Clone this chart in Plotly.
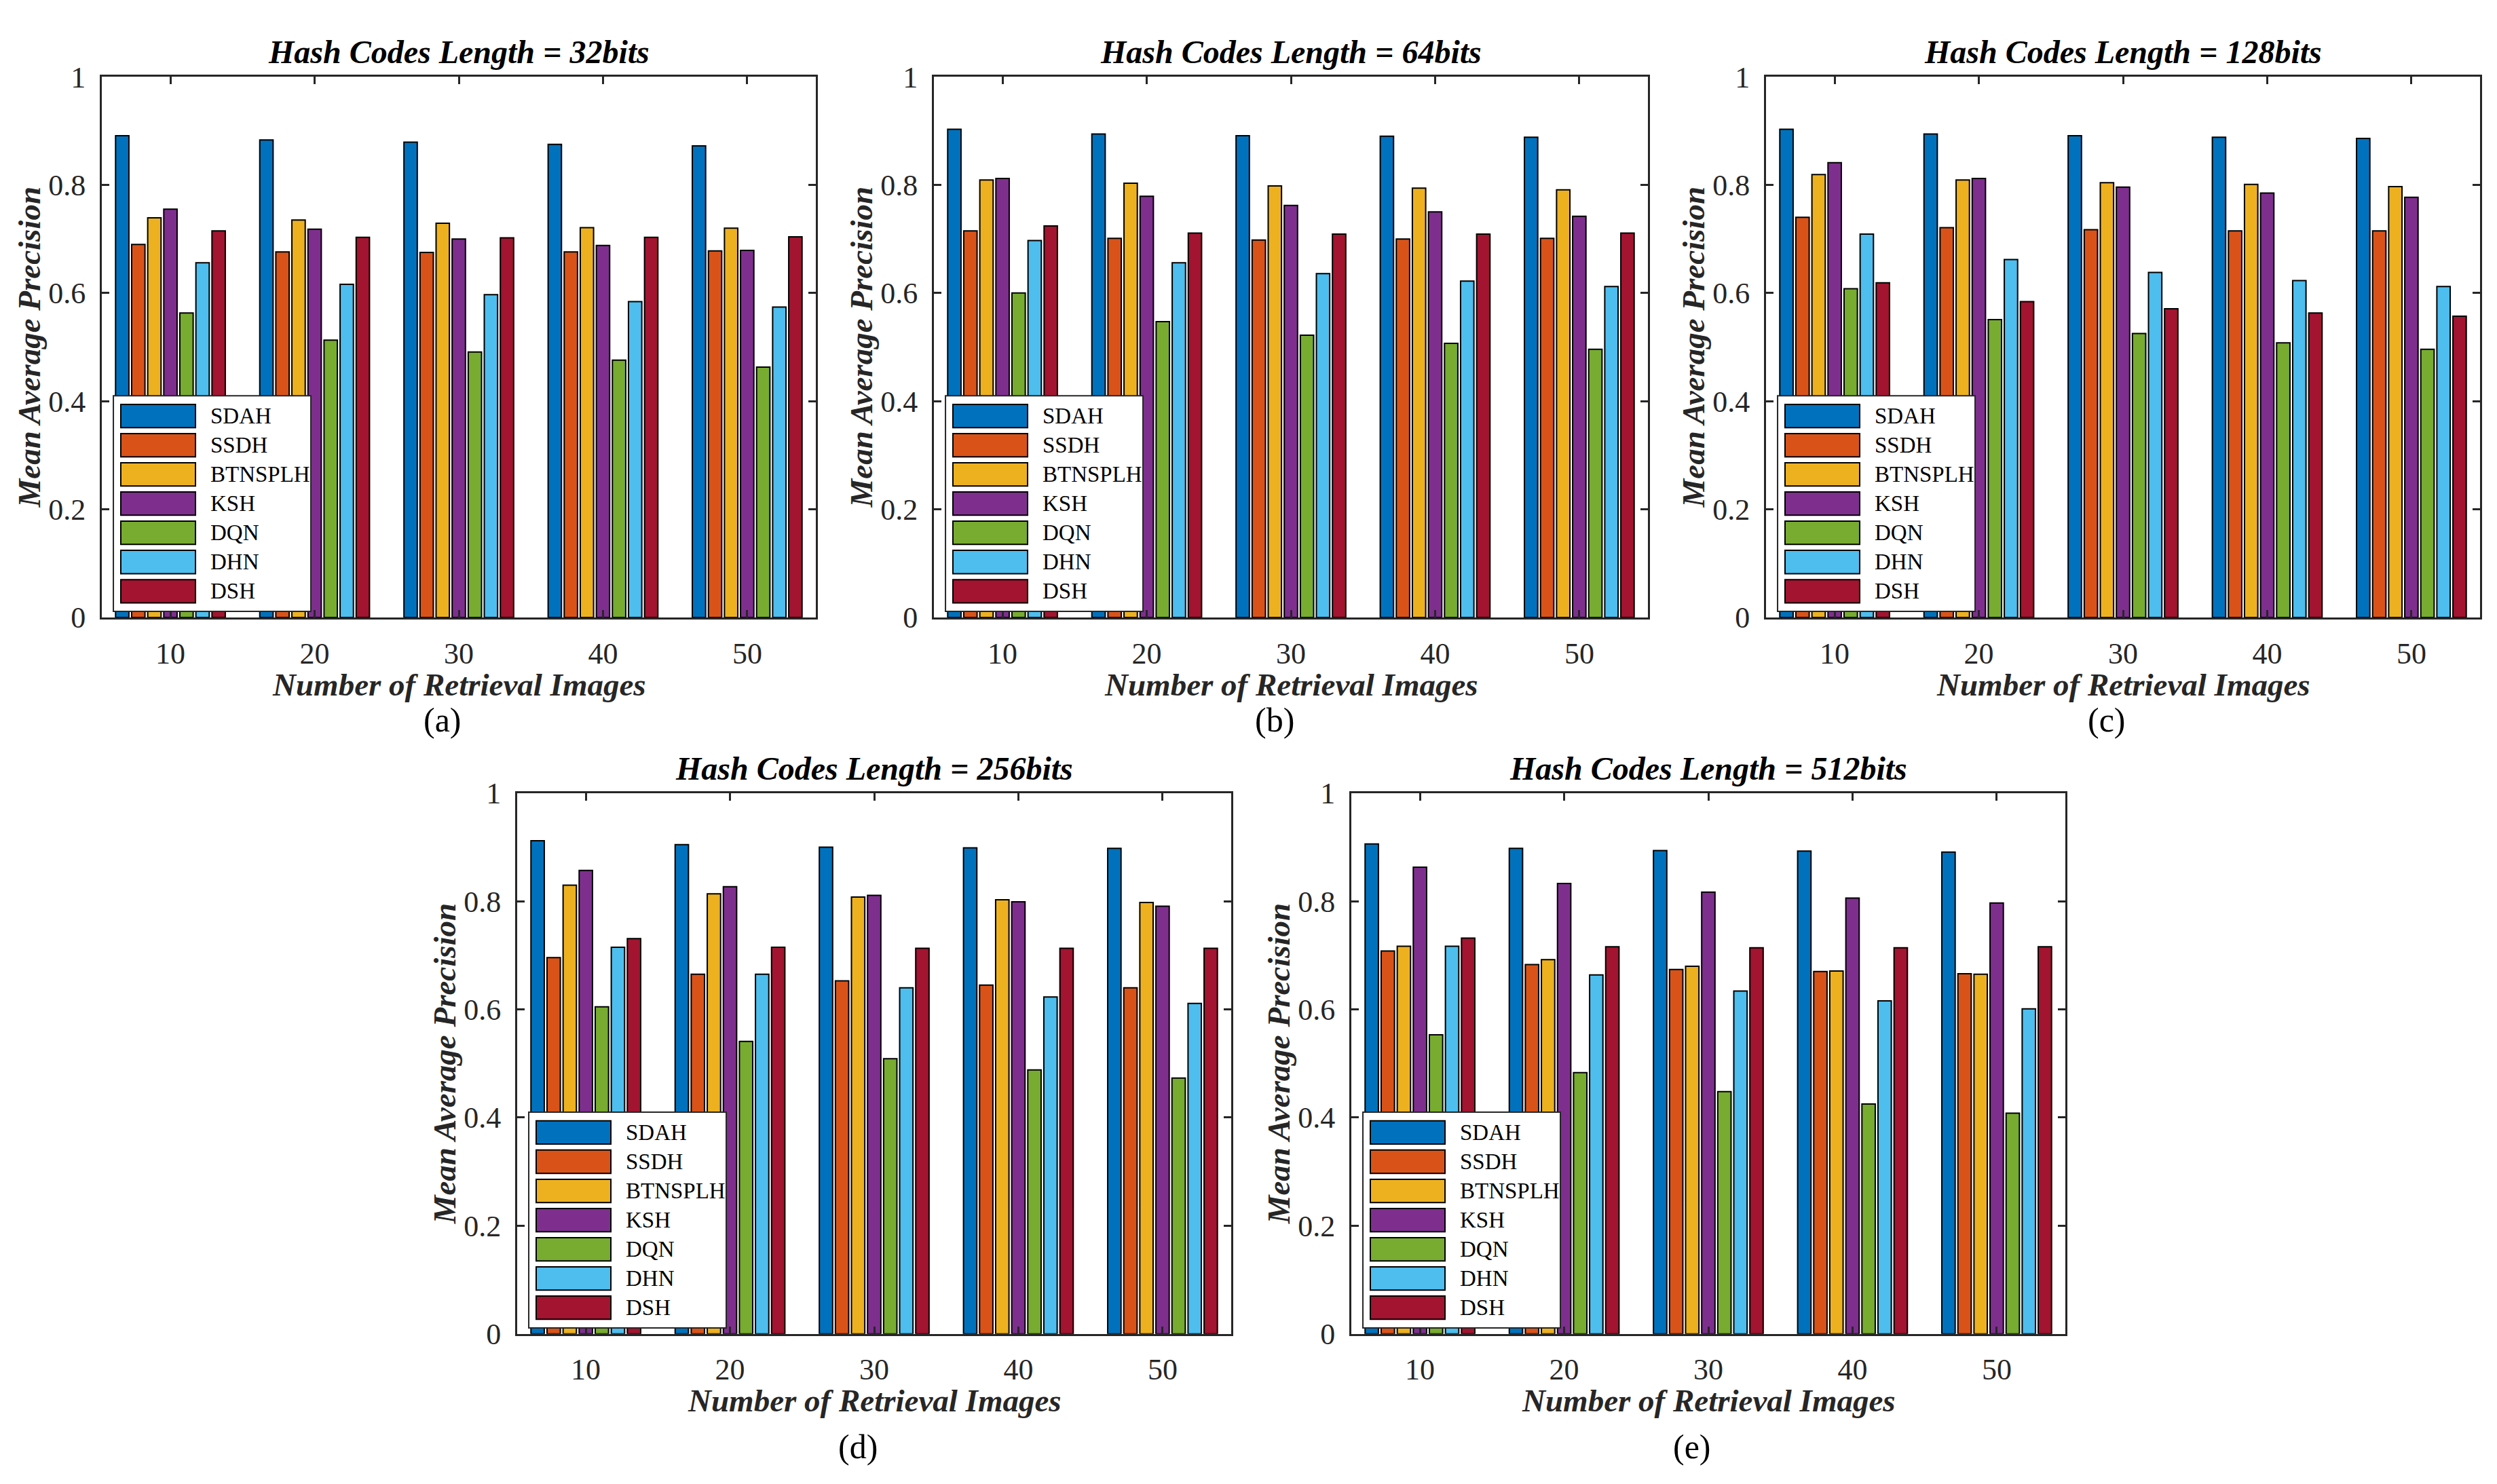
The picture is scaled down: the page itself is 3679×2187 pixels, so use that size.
import plotly.graph_objects as go

# -- datos (MAP vs numero de imagenes recuperadas)
n_imagenes = [10, 20, 30, 40, 50]
metodos = ['SDAH', 'SSDH', 'BTNSPLH', 'KSH', 'DQN', 'DHN', 'DSH']
colores = ['#0072BD', '#D95319', '#EDB120', '#7E2F8E', '#77AC30', '#4DBEEE', '#A2142F']

map_32 = [[0.891, 0.883, 0.879, 0.875, 0.872],
          [0.690, 0.676, 0.675, 0.676, 0.678],
          [0.739, 0.735, 0.729, 0.721, 0.720],
          [0.755, 0.718, 0.700, 0.688, 0.679],
          [0.563, 0.513, 0.491, 0.476, 0.463],
          [0.656, 0.616, 0.597, 0.584, 0.574],
          [0.715, 0.703, 0.702, 0.703, 0.704]]

map_64 = [[0.903, 0.894, 0.891, 0.890, 0.888],
          [0.715, 0.701, 0.698, 0.700, 0.701],
          [0.809, 0.803, 0.798, 0.794, 0.791],
          [0.812, 0.779, 0.762, 0.750, 0.742],
          [0.600, 0.547, 0.522, 0.507, 0.496],
          [0.697, 0.656, 0.636, 0.622, 0.612],
          [0.724, 0.711, 0.709, 0.709, 0.711]]

map_128 = [[0.903, 0.894, 0.891, 0.888, 0.886],
           [0.740, 0.721, 0.717, 0.715, 0.715],
           [0.819, 0.809, 0.804, 0.801, 0.797],
           [0.841, 0.812, 0.796, 0.785, 0.777],
           [0.608, 0.551, 0.525, 0.508, 0.496],
           [0.709, 0.662, 0.638, 0.623, 0.612],
           [0.619, 0.584, 0.571, 0.563, 0.557]]

map_256 = [[0.912, 0.905, 0.900, 0.899, 0.898],
           [0.696, 0.665, 0.653, 0.645, 0.640],
           [0.830, 0.814, 0.808, 0.803, 0.798],
           [0.857, 0.827, 0.811, 0.799, 0.791],
           [0.605, 0.541, 0.509, 0.488, 0.473],
           [0.715, 0.665, 0.640, 0.623, 0.611],
           [0.731, 0.715, 0.713, 0.713, 0.713]]

map_512 = [[0.906, 0.898, 0.894, 0.893, 0.891],
           [0.708, 0.683, 0.674, 0.670, 0.666],
           [0.717, 0.692, 0.680, 0.671, 0.665],
           [0.863, 0.833, 0.817, 0.806, 0.797],
           [0.553, 0.483, 0.448, 0.425, 0.408],
           [0.717, 0.664, 0.634, 0.616, 0.601],
           [0.732, 0.716, 0.714, 0.714, 0.716]]

titulos = ['Hash Codes Length = 32bits', 'Hash Codes Length = 64bits', 'Hash Codes Length = 128bits',
           'Hash Codes Length = 256bits', 'Hash Codes Length = 512bits']
subtitulos = ['(a)', '(b)', '(c)', '(d)', '(e)']
paneles = [map_32, map_64, map_128, map_256, map_512]

# -- geometria de la pagina (pixeles)
W, H = 3679, 2187
cajas = [(142, 83), (1368, 83), (2594, 83), (754, 1163), (1983, 1163)]  # esquina sup. izq. de cada eje
sep_sub = [155, 155, 155, 170, 170]  # distancia del eje inferior al rotulo (a)...(e)
ancho, alto = 1052, 815

FUENTE = 'Liberation Serif'
GRIS = '#262626'

fig = go.Figure()
anotaciones = []
formas = []

for k, (datos, titulo, sub, (px, py)) in enumerate(zip(paneles, titulos, subtitulos, cajas)):
    sfx = '' if k == 0 else str(k + 1)
    xa, ya = 'x' + sfx, 'y' + sfx

    for j, metodo in enumerate(metodos):
        fig.add_trace(go.Bar(x=n_imagenes, y=datos[j], name=metodo, xaxis=xa, yaxis=ya,
                             marker=dict(color=colores[j], line=dict(color='black', width=2)),
                             showlegend=False))

    dom_x = [px / W, (px + ancho) / W]
    dom_y = [1 - (py + alto) / H, 1 - py / H]
    ejes = dict(showline=True, linewidth=2.7, linecolor=GRIS, mirror='allticks', ticks='inside',
                ticklen=11, tickwidth=2.5, tickcolor=GRIS, showgrid=False, zeroline=False,
                tickfont=dict(family=FUENTE, size=44, color=GRIS))
    fig.layout['xaxis' + sfx] = dict(domain=dom_x, anchor=ya, range=[5.24, 54.76],
                                     tickvals=n_imagenes, ticklabelstandoff=12, **ejes)
    fig.layout['yaxis' + sfx] = dict(domain=dom_y, anchor=xa, range=[0, 1], dtick=0.2,
                                     ticklabelstandoff=12, **ejes)

    cx = (px + ancho / 2) / W
    # titulo del eje
    anotaciones.append(dict(x=cx, y=1 - (py - 37) / H, xref='paper', yref='paper', showarrow=False,
                            text='<b><i>' + titulo + '</i></b>', xanchor='center', yanchor='middle',
                            font=dict(family=FUENTE, size=48, color='black')))
    anotaciones.append(dict(x=cx, y=1 - (py + alto + 101) / H, xref='paper', yref='paper', showarrow=False,
                            text='<b><i>Number of Retrieval Images</i></b>', xanchor='center', yanchor='middle',
                            font=dict(family=FUENTE, size=47, color=GRIS)))
    anotaciones.append(dict(x=(px + ancho / 2 - 24) / W, y=1 - (py + alto + sep_sub[k]) / H, xref='paper',
                            yref='paper', showarrow=False, text=sub, xanchor='center', yanchor='middle',
                            font=dict(family=FUENTE, size=50, color='black')))
    anotaciones.append(dict(x=(px - 107) / W, y=1 - (py + alto / 2) / H, xref='paper', yref='paper',
                            showarrow=False, text='<b><i>Mean Average Precision</i></b>', textangle=-90,
                            xanchor='center', yanchor='middle',
                            font=dict(family=FUENTE, size=47, color=GRIS)))

    # leyenda tipo MATLAB dentro del eje (abajo a la izquierda)
    xr, yr = xa + ' domain', ya + ' domain'
    formas.append(dict(type='rect', xref=xr, yref=yr, x0=0.0162, x1=0.2928, y0=0.011, y1=0.41,
                       fillcolor='white', line=dict(color=GRIS, width=2), layer='above'))
    for j, metodo in enumerate(metodos):
        yc = (303.5 - 44 * j) / alto
        formas.append(dict(type='rect', xref=xr, yref=yr, x0=0.0266, x1=0.1312,
                           y0=yc - 0.0215, y1=yc + 0.0215, fillcolor=colores[j],
                           line=dict(color='black', width=2), layer='above'))
        anotaciones.append(dict(x=0.150, y=yc, xref=xr, yref=yr, showarrow=False, text=metodo,
                                xanchor='left', yanchor='middle',
                                font=dict(family=FUENTE, size=33, color='black')))

fig.update_layout(width=W, height=H, margin=dict(l=0, r=0, t=0, b=0),
                  paper_bgcolor='white', plot_bgcolor='white',
                  barmode='group', bargap=0.22, bargroupgap=0.17,
                  annotations=anotaciones, shapes=formas)

fig.write_html('out.html')
